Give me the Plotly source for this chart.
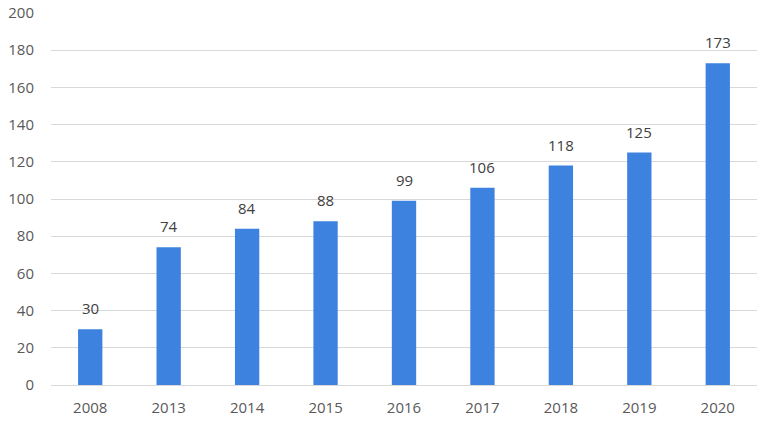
import plotly.graph_objects as go

years = ["2008", "2013", "2014", "2015", "2016", "2017", "2018", "2019", "2020"]
values = [30, 74, 84, 88, 99, 106, 118, 125, 173]
y_ticks = list(range(0, 201, 20))

fig = go.Figure()
fig.add_trace(go.Bar(
    x=years,
    y=values,
    marker=dict(color="#3d82df", line=dict(width=0)),
))

# value labels sit a bit higher above the bars than plotly's "outside" text
# (annotation x on a category axis = category index)
for i, v in enumerate(values):
    fig.add_annotation(
        x=i, y=v, text=str(v), showarrow=False,
        yanchor="bottom", yshift=9,
        font=dict(size=15, color="#404040"),
    )

fig.update_layout(
    width=764, height=421,
    margin=dict(l=51, r=7, t=13, b=36),
    paper_bgcolor="white",
    plot_bgcolor="white",
    bargap=0.69,
    showlegend=False,
    font=dict(family="Open Sans, DejaVu Sans, sans-serif", size=15, color="#595959"),
)
fig.update_xaxes(
    type="category",
    automargin=False,
    showgrid=False,
    showline=True,
    linecolor="#d9d9d9",
    linewidth=1,
    ticks="",
    ticklabelstandoff=9,
    tickfont=dict(size=15, color="#595959"),
)
fig.update_yaxes(
    range=[0, 200],
    automargin=False,
    tickvals=y_ticks,
    showgrid=True,
    gridcolor="#d9d9d9",
    gridwidth=1,
    zeroline=False,
    showline=False,
    ticks="",
    ticklabelstandoff=16,
    tickfont=dict(size=15, color="#595959"),
)

fig.write_html("out.html", config={"displayModeBar": False},
               post_script="document.body.style.margin='0';")
